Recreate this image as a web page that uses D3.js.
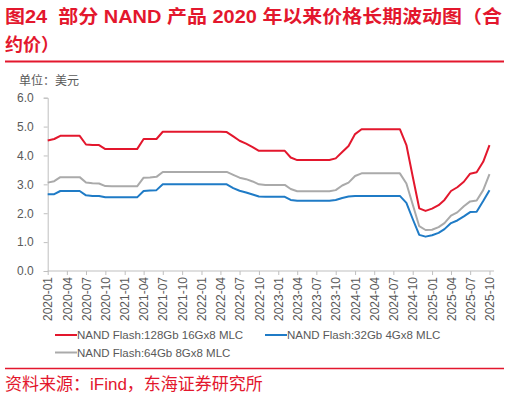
<!DOCTYPE html>
<html>
<head>
<meta charset="utf-8">
<script src="https://cdn.jsdelivr.net/npm/d3@7"></script>
<style>
  body { margin: 0; background: #fff; }
  svg { display: block; }
</style>
</head>
<body>
<div id="vis"></div>
<script>
// Monthly contract prices (USD), 2020-01 .. 2025-10, one row per year
const mlc128 = [
  4.52, 4.57, 4.68, 4.68, 4.68, 4.68, 4.38, 4.36, 4.36, 4.22, 4.22, 4.22,
  4.22, 4.22, 4.22, 4.57, 4.57, 4.57, 4.82, 4.82, 4.82, 4.82, 4.82, 4.82,
  4.82, 4.82, 4.82, 4.82, 4.81, 4.66, 4.51, 4.41, 4.29, 4.16, 4.16, 4.16,
  4.16, 4.16, 3.93, 3.84, 3.84, 3.84, 3.84, 3.84, 3.84, 3.90, 4.12, 4.33,
  4.74, 4.91, 4.91, 4.91, 4.91, 4.91, 4.91, 4.91, 4.36, 3.27, 2.17, 2.08,
  2.16, 2.28, 2.46, 2.77, 2.90, 3.09, 3.37, 3.42, 3.78, 4.36
];
const mlc32 = [
  2.66, 2.66, 2.77, 2.77, 2.77, 2.77, 2.62, 2.60, 2.60, 2.55, 2.55, 2.55,
  2.55, 2.55, 2.55, 2.77, 2.79, 2.80, 3.00, 3.00, 3.00, 3.00, 3.00, 3.00,
  3.00, 3.00, 3.00, 3.00, 3.00, 2.87, 2.78, 2.72, 2.65, 2.58, 2.57, 2.57,
  2.57, 2.57, 2.46, 2.43, 2.43, 2.43, 2.43, 2.43, 2.43, 2.46, 2.53, 2.58,
  2.60, 2.60, 2.60, 2.60, 2.60, 2.60, 2.60, 2.60, 2.36, 1.80, 1.25, 1.19,
  1.24, 1.32, 1.45, 1.66, 1.75, 1.89, 2.04, 2.05, 2.42, 2.80
];
const mlc64 = [
  3.06, 3.11, 3.25, 3.25, 3.25, 3.25, 3.06, 3.04, 3.03, 2.94, 2.93, 2.93,
  2.93, 2.93, 2.93, 3.23, 3.24, 3.26, 3.43, 3.43, 3.43, 3.43, 3.43, 3.43,
  3.43, 3.43, 3.43, 3.43, 3.43, 3.33, 3.23, 3.18, 3.10, 3.00, 2.98, 2.98,
  2.98, 2.98, 2.84, 2.76, 2.76, 2.76, 2.76, 2.76, 2.76, 2.80, 2.96, 3.06,
  3.29, 3.38, 3.38, 3.38, 3.38, 3.38, 3.38, 3.38, 3.03, 2.30, 1.55, 1.42,
  1.43, 1.52, 1.66, 1.92, 2.03, 2.24, 2.41, 2.44, 2.80, 3.35
];
const seriesNames = [
  'NAND Flash:128Gb 16Gx8 MLC',
  'NAND Flash:32Gb 4Gx8 MLC',
  'NAND Flash:64Gb 8Gx8 MLC'
];
const yTicks = [0, 1, 2, 3, 4, 5, 6];
const months = d3.timeMonth.range(new Date(2020, 0, 1), new Date(2025, 10, 1));

const width = 510;
const height = 397;
const red = '#e3172d';
const textGrey = '#595959';
const axisGrey = '#bfbfbf';
const latin = '"Liberation Sans", Arial, "Noto Sans CJK SC", sans-serif';

const series = [
  { name: seriesNames[0], values: mlc128, color: '#e3172d' },
  { name: seriesNames[1], values: mlc32, color: '#1f7bc6' },
  { name: seriesNames[2], values: mlc64, color: '#aaaaaa' }
];

const svg = d3.select('#vis').append('svg')
  .attr('width', width)
  .attr('height', height);

svg.append('rect').attr('width', width).attr('height', height).attr('fill', '#fff');

// title, two lines
const title = svg.append('g')
  .attr('font-family', latin)
  .attr('font-weight', 'bold')
  .attr('font-size', 18)
  .attr('fill', red);
title.append('text').attr('x', 5).attr('y', 23)
  .attr('xml:space', 'preserve')
  .style('white-space', 'pre')
  .attr('textLength', 497).attr('lengthAdjust', 'spacingAndGlyphs')
  .text('图24\u00a0\u00a0部分 NAND 产品 2020 年以来价格长期波动图（合');
title.append('text').attr('x', 5).attr('y', 51).text('约价）');

svg.append('line')
  .attr('x1', 5).attr('x2', 504).attr('y1', 61.5).attr('y2', 61.5)
  .attr('stroke', red).attr('stroke-width', 2);

svg.append('text')
  .attr('x', 19).attr('y', 85)
  .attr('font-family', latin).attr('font-size', 12).attr('fill', textGrey)
  .text('单位：美元');

// scales
const x = d3.scaleTime()
  .domain([months[0], months[months.length - 1]])
  .range([47.7, 489.5]);
const y = d3.scaleLinear().domain([0, 6]).range([271, 97.7]);

// y axis
const yAxis = svg.append('g')
  .attr('transform', 'translate(47.7,0)')
  .call(d3.axisLeft(y).tickValues(yTicks).tickSize(4).tickPadding(10)
    .tickFormat(d3.format('.1f')));
yAxis.select('.domain').attr('stroke', axisGrey);
yAxis.selectAll('.tick line').attr('stroke', axisGrey);
yAxis.selectAll('.tick text')
  .attr('font-family', latin).attr('font-size', 12).attr('fill', textGrey);

// x axis
const xAxis = svg.append('g')
  .attr('transform', 'translate(0,271)')
  .call(d3.axisBottom(x).ticks(d3.timeMonth.every(3)).tickSize(4)
    .tickFormat(d3.timeFormat('%Y-%m')));
xAxis.select('.domain').remove();
xAxis.append('line')
  .attr('x1', 47.7).attr('x2', 494).attr('stroke', axisGrey);
xAxis.selectAll('.tick line').attr('stroke', axisGrey);
xAxis.selectAll('.tick text')
  .attr('font-family', latin).attr('font-size', 12).attr('fill', textGrey)
  .attr('text-anchor', 'end')
  .attr('dy', '0.35em')
  .attr('transform', 'translate(0,6) rotate(-90)')
  .attr('y', 0).attr('x', 0);

// lines
const line = d3.line()
  .x((d, i) => x(months[i]))
  .y(d => y(d));

svg.append('g').selectAll('path')
  .data([series[2], series[1], series[0]])
  .join('path')
  .attr('fill', 'none')
  .attr('stroke', d => d.color)
  .attr('stroke-width', 2)
  .attr('stroke-linejoin', 'round')
  .attr('d', d => line(d.values));

// legend
const legendPos = [[55, 335], [265, 335], [55, 352.5]];
const legend = svg.append('g')
  .selectAll('g')
  .data(series)
  .join('g')
  .attr('transform', (d, i) => `translate(${legendPos[i][0]},${legendPos[i][1]})`);
legend.append('line')
  .attr('x1', 0).attr('x2', 22)
  .attr('stroke', d => d.color).attr('stroke-width', 2);
legend.append('text')
  .attr('x', 22).attr('y', 4)
  .attr('font-family', latin).attr('font-size', 11.5).attr('fill', textGrey)
  .text(d => d.name);

// source
svg.append('line')
  .attr('x1', 5).attr('x2', 504).attr('y1', 368.5).attr('y2', 368.5)
  .attr('stroke', red).attr('stroke-width', 1.5);
svg.append('text')
  .attr('x', 5).attr('y', 390)
  .attr('font-family', latin).attr('font-size', 17).attr('fill', red)
  .text('资料来源：iFind，东海证券研究所');
</script>
</body>
</html>
